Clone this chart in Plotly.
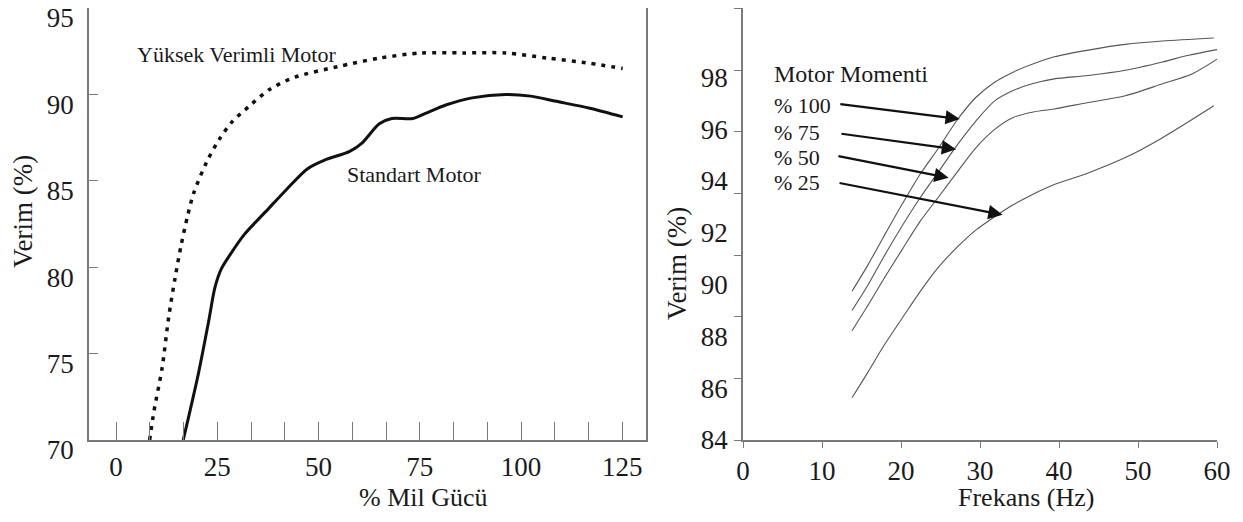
import plotly.graph_objects as go

# ---------------- Left chart data: Verim vs % Mil Gücü ----------------
yuksek_x = [8.3, 9.4, 11.4, 13.0, 14.6, 16.1, 17.7, 19.2, 22.4, 25.5, 28.6, 32.8, 38.0,
            44.2, 54.6, 65.0, 75.4, 85.8, 96.2, 106.6, 117.0, 125.1]
yuksek_y = [70.0, 71.7, 74.2, 77.1, 79.4, 81.3, 83.0, 84.3, 86.1, 87.4, 88.4, 89.3, 90.3,
            91.0, 91.6, 92.1, 92.4, 92.4, 92.4, 92.1, 91.8, 91.5]

standart_x = [16.6, 20.3, 22.9, 24.4, 26.0, 28.1, 31.7, 36.9, 42.1, 47.3, 51.5, 57.7, 60.8,
              65.0, 68.1, 73.3, 76.4, 81.6, 87.9, 96.2, 102.4, 108.7, 117.0, 125.1]
standart_y = [70.0, 73.8, 76.9, 78.8, 79.9, 80.7, 81.9, 83.2, 84.5, 85.7, 86.2, 86.7, 87.2,
              88.3, 88.6, 88.6, 88.9, 89.4, 89.8, 90.0, 89.9, 89.6, 89.2, 88.7]

left_xtick_labels = ["0", "25", "50", "75", "100", "125"]
left_ytick_vals = [70, 75, 80, 85, 90, 95]

# ---------------- Right chart data: Verim vs Frekans ----------------
freq = [13.8, 15.8, 17.7, 20.1, 22.4, 24.8, 27.2, 29.5, 31.9, 34.2, 36.6, 39.4, 43.7, 48.4, 53.1]
m100_y = [89.74, 90.75, 91.79, 93.08, 94.25, 95.29, 96.39, 97.23, 97.82, 98.20, 98.50, 98.79,
          99.05, 99.27, 99.40]
m100_end = (59.6, 99.52)
m75_y = [89.0, 89.97, 91.01, 92.24, 93.34, 94.38, 95.42, 96.32, 97.10, 97.49, 97.75, 97.94,
         98.07, 98.27, 98.59]
m75_end = [(56.4, 98.85), (60.0, 99.07)]
m50_y = [88.22, 89.19, 90.16, 91.33, 92.43, 93.40, 94.38, 95.29, 96.0, 96.45, 96.65, 96.78,
         97.03, 97.29, 97.75]
m50_end = [(56.9, 98.14), (60.0, 98.70)]
m25_y = [85.63, 86.61, 87.58, 88.68, 89.72, 90.69, 91.47, 92.11, 92.63, 93.08, 93.47, 93.86,
         94.31, 94.90, 95.67]
m25_end = (59.6, 96.90)

right_xticks = [0, 10, 20, 30, 40, 50, 60]
right_yticks = [84, 86, 88, 90, 92, 94, 96, 98]

moment_labels = ["% 100", "% 75", "% 50", "% 25"]
label_y = [96.91, 95.87, 94.90, 93.93]
arrow_tail = [(12.13, 96.97), (12.27, 95.83), (11.89, 94.97), (12.03, 93.93)]
arrow_head = [(27.44, 96.39), (26.97, 95.22), (26.03, 94.12), (32.86, 92.69)]

FONT = "Liberation Serif"
TXT = "#1a1a1a"
AX = "#7a7a7a"

# The page body keeps its default 8px margin, so the figure is made 16px smaller
# than the 1243x522 window; positions below are given in window pixels.
W, H = 1227, 506
OFF = 8


def px(x):
    return min(1.0, max(0.0, (x - OFF) / W))


def py(y):
    return min(1.0, max(0.0, 1 - (y - OFF) / H))


fig = go.Figure()

fig.add_trace(go.Scatter(x=yuksek_x, y=yuksek_y, mode="lines", xaxis="x", yaxis="y",
                         line=dict(color="#111", width=3.5, dash="4px,6px", shape="spline", smoothing=0.8),
                         hoverinfo="skip"))
fig.add_trace(go.Scatter(x=standart_x, y=standart_y, mode="lines", xaxis="x", yaxis="y",
                         line=dict(color="#111", width=3, shape="spline", smoothing=0.8),
                         hoverinfo="skip"))

curves = [
    (freq + [m100_end[0]], m100_y + [m100_end[1]]),
    (freq + [p[0] for p in m75_end], m75_y + [p[1] for p in m75_end]),
    (freq + [p[0] for p in m50_end], m50_y + [p[1] for p in m50_end]),
    (freq + [m25_end[0]], m25_y + [m25_end[1]]),
]
for cx, cy in curves:
    fig.add_trace(go.Scatter(x=cx, y=cy, mode="lines", xaxis="x2", yaxis="y2",
                             line=dict(color="#555", width=1.1, shape="spline", smoothing=0.8),
                             hoverinfo="skip"))
# invisible trace so the tick-mark overlay axis is drawn
fig.add_trace(go.Scatter(x=[30], y=[3], mode="markers", xaxis="x2", yaxis="y3",
                         marker=dict(opacity=0), hoverinfo="skip"))

lx_vals = [i * 125 / 15 for i in range(16)]
lx_text = [left_xtick_labels[i // 3] if i % 3 == 0 else "" for i in range(16)]

tickfont = dict(family=FONT, size=27, color=TXT)

fig.update_layout(
    width=W, height=H,
    margin=dict(l=0, r=0, t=0, b=0, autoexpand=False),
    paper_bgcolor="white", plot_bgcolor="white",
    showlegend=False,
    font=dict(family=FONT, color=TXT),
    xaxis=dict(domain=[px(89), px(646)], range=[-6.67, 130.86],
               tickmode="array", tickvals=lx_vals, ticktext=lx_text,
               ticks="inside", ticklen=18, tickcolor=AX, tickwidth=1,
               showline=True, linecolor=AX, linewidth=1.5, mirror=True,
               showgrid=False, zeroline=False, tickfont=tickfont,
               ticklabelstandoff=2, anchor="y", automargin=False),
    yaxis=dict(domain=[py(440), py(4.5)], range=[70, 95],
               tickmode="array", tickvals=left_ytick_vals,
               ticks="inside", ticklen=9, tickcolor=AX,
               showline=True, linecolor=AX, linewidth=1.5, mirror=True,
               showgrid=False, zeroline=False, tickfont=tickfont,
               ticklabelstandoff=8, ticklabelshift=10, ticklabeloverflow="allow",
               anchor="x", automargin=False),
    xaxis2=dict(domain=[px(743), px(1217)], range=[0, 60],
                tickmode="array", tickvals=right_xticks,
                ticks="outside", ticklen=6, tickcolor=AX,
                showline=True, linecolor=AX, linewidth=1.5, mirror=False,
                showgrid=False, zeroline=False, tickfont=tickfont,
                ticklabelstandoff=0, anchor="y2", automargin=False),
    yaxis2=dict(domain=[py(440), py(8.4)], range=[84, 100.66],
                tickmode="array", tickvals=right_yticks,
                ticks="", showline=True, linecolor=AX, linewidth=1.5,
                showgrid=False, zeroline=False, tickfont=tickfont,
                ticklabelstandoff=8, ticklabeloverflow="allow", anchor="x2", automargin=False),
    yaxis3=dict(overlaying="y2", range=[0, 7], tickmode="array", tickvals=list(range(8)),
                ticks="outside", ticklen=8, tickcolor=AX, showticklabels=False,
                showline=False, showgrid=False, zeroline=False, anchor="x2", side="left",
                automargin=False),
)

ann = []
ann.append(dict(text="% Mil Gücü", x=px(423), y=0, xref="paper", yref="paper",
                showarrow=False, font=dict(family=FONT, size=26, color=TXT),
                xanchor="center", yanchor="bottom"))
ann.append(dict(text="Verim (%)", x=px(23), y=py(212), xref="paper", yref="paper",
                showarrow=False, textangle=-90, font=dict(family=FONT, size=27, color=TXT),
                xanchor="center", yanchor="middle"))
ann.append(dict(text="Frekans (Hz)", x=px(1026), y=0, xref="paper", yref="paper",
                showarrow=False, font=dict(family=FONT, size=26, color=TXT),
                xanchor="center", yanchor="bottom"))
ann.append(dict(text="Verim (%)", x=px(677), y=py(264), xref="paper", yref="paper",
                showarrow=False, textangle=-90, font=dict(family=FONT, size=27, color=TXT),
                xanchor="center", yanchor="middle"))
ann.append(dict(text="Yüksek Verimli Motor", x=4.7, y=92.33, xref="x", yref="y", showarrow=False,
                font=dict(family=FONT, size=22, color=TXT), xanchor="left", yanchor="middle"))
ann.append(dict(text="Standart Motor", x=56.5, y=85.39, xref="x", yref="y", showarrow=False,
                font=dict(family=FONT, size=22, color=TXT), xanchor="left", yanchor="middle"))
ann.append(dict(text="Motor Momenti", x=3.67, y=98.14, xref="x2", yref="y2", showarrow=False,
                font=dict(family=FONT, size=24, color=TXT), xanchor="left", yanchor="middle"))
for lab, ly in zip(moment_labels, label_y):
    ann.append(dict(text=lab, x=3.67, y=ly, xref="x2", yref="y2", showarrow=False,
                    font=dict(family=FONT, size=22, color=TXT), xanchor="left", yanchor="middle"))
for (tx, ty), (hx, hy) in zip(arrow_tail, arrow_head):
    ann.append(dict(text="", x=hx, y=hy, ax=tx, ay=ty, xref="x2", yref="y2", axref="x2", ayref="y2",
                    showarrow=True, arrowhead=2, arrowsize=1.3, arrowwidth=2.2, arrowcolor="#111",
                    standoff=0))
fig.update_layout(annotations=ann)

fig.write_html("out.html")
